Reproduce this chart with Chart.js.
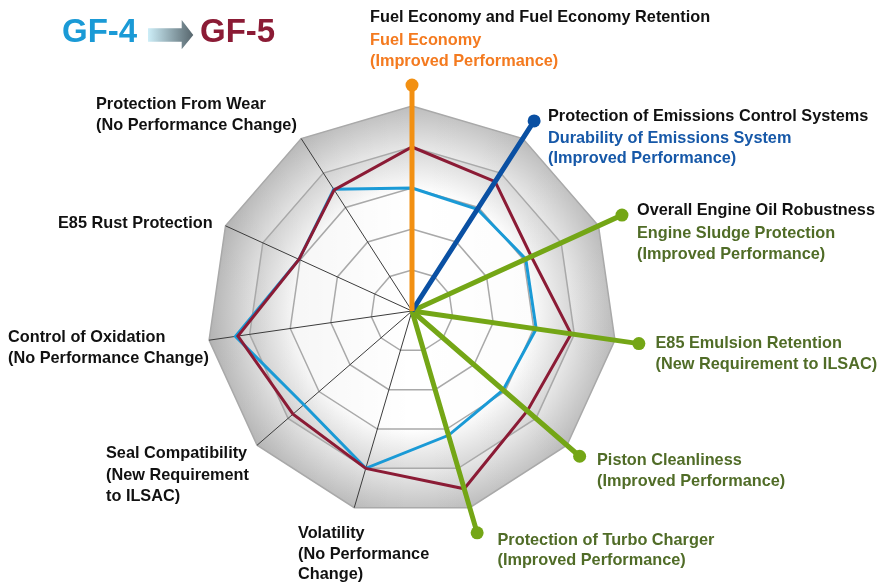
<!DOCTYPE html>
<html>
<head>
<meta charset="utf-8">
<script src="https://cdn.jsdelivr.net/npm/chart.js@4"></script>
<style>
  html, body { margin: 0; padding: 0; background: #ffffff; }
  #wrap { position: relative; width: 879px; height: 583px; overflow: hidden; font-family: "Liberation Sans", Arial, sans-serif; }
  #c { position: absolute; left: 0; top: 0; }
  .lbl { position: absolute; font-weight: bold; font-size: 16.3px; line-height: 20px; white-space: nowrap; }
  .title { position: absolute; font-weight: bold; font-size: 33px; line-height: 40px; white-space: nowrap; }
</style>
</head>
<body>
<div id="wrap">
  <canvas id="c" width="879" height="583"></canvas>
</div>
<script>
// ---------------- data ----------------
const categories = [
  'Fuel Economy', 'Emissions Control', 'Engine Sludge', 'E85 Emulsion', 'Piston Cleanliness',
  'Turbo Charger', 'Volatility', 'Seal Compatibility', 'Oxidation', 'E85 Rust', 'Wear'
];
const gf5Values = [4.0, 3.75, 3.2, 3.92, 3.72, 4.52, 4.0, 3.84, 4.29, 3.03, 3.51];
const gf4Values = [3.0, 2.95, 3.05, 3.06, 2.94, 3.16, 4.0, 3.49, 4.35, 3.03, 3.53];
// highlighted (improved / new) criteria: axis index and spoke length
const highlightAxes = [0, 1, 2, 3, 4, 5];
const highlightLengths = [5.51, 5.51, 5.63, 5.59, 5.41, 5.64];
const highlightColors = ['#f29012', '#0a50a3', '#74a616', '#74a616', '#74a616', '#74a616'];
const scaleMax = 5;

// label text (first line black, rest coloured)
const labelText = [
  ['Fuel Economy and Fuel Economy Retention', 'Fuel Economy', '(Improved Performance)'],
  ['Protection of Emissions Control Systems', 'Durability of Emissions System', '(Improved Performance)'],
  ['Overall Engine Oil Robustness', 'Engine Sludge Protection', '(Improved Performance)'],
  ['E85 Emulsion Retention', '(New Requirement to ILSAC)'],
  ['Piston Cleanliness', '(Improved Performance)'],
  ['Protection of Turbo Charger', '(Improved Performance)'],
  ['Volatility', '(No Performance', 'Change)'],
  ['Seal Compatibility', '(New Requirement', 'to ILSAC)'],
  ['Control of Oxidation', '(No Performance Change)'],
  ['E85 Rust Protection'],
  ['Protection From Wear', '(No Performance Change)']
];

// ---------------- layout / styles ----------------
const labelLayout = [
  { x: 370, ys: [15.5, 39, 59.5], colors: ['#111', '#f47a1f', '#f47a1f'] },
  { x: 548, ys: [114.5, 136.5, 156.7], colors: ['#111', '#1658a8', '#1658a8'] },
  { x: 637, ys: [209.2, 231.8, 253], colors: ['#111', '#506c27', '#506c27'] },
  { x: 655.5, ys: [341.7, 362.7], colors: ['#506c27', '#506c27'] },
  { x: 597, ys: [458.3, 479.7], colors: ['#506c27', '#506c27'] },
  { x: 497.5, ys: [538.3, 558.8], colors: ['#506c27', '#506c27'] },
  { x: 298, ys: [531.7, 552.7, 572.7], colors: ['#111', '#111', '#111'] },
  { x: 106, ys: [452, 473.5, 494.5], colors: ['#111', '#111', '#111'] },
  { x: 8, ys: [335.8, 356.7], colors: ['#111', '#111'] },
  { x: 58, ys: [222.2], colors: ['#111'] },
  { x: 96, ys: [103, 124], colors: ['#111', '#111'] }
];

const wrap = document.getElementById('wrap');
labelText.forEach((lines, i) => {
  const L = labelLayout[i];
  lines.forEach((t, k) => {
    const d = document.createElement('div');
    d.className = 'lbl';
    d.textContent = t;
    d.style.left = L.x + 'px';
    d.style.top = (L.ys[k] - 9.8) + 'px';
    d.style.color = L.colors[k];
    wrap.appendChild(d);
  });
});

// title "GF-4 -> GF-5"
(function () {
  const t1 = document.createElement('div');
  t1.className = 'title'; t1.textContent = 'GF-4';
  t1.style.left = '62px'; t1.style.top = '11px'; t1.style.color = '#1a9ad6';
  wrap.appendChild(t1);
  const t2 = document.createElement('div');
  t2.className = 'title'; t2.textContent = 'GF-5';
  t2.style.left = '200px'; t2.style.top = '11px'; t2.style.color = '#8b1b35';
  wrap.appendChild(t2);
  const svgNS = 'http://www.w3.org/2000/svg';
  const svg = document.createElementNS(svgNS, 'svg');
  svg.setAttribute('width', '60'); svg.setAttribute('height', '40');
  svg.style.position = 'absolute'; svg.style.left = '146px'; svg.style.top = '15px';
  svg.innerHTML = '<defs><linearGradient id="ag" x1="0" y1="0" x2="1" y2="0">' +
    '<stop offset="0" stop-color="#cdeef8"/><stop offset="1" stop-color="#56656c"/></linearGradient></defs>' +
    '<polygon points="2,13.3 35.7,13.3 35.7,5 47.3,20 35.7,34.3 35.7,26.7 2,26.7" fill="url(#ag)"/>';
  wrap.appendChild(svg);
})();

// ---------------- chart ----------------
// let the spoke tip dots (which lie beyond the outer ring) be drawn
const fullAreaPlugin = {
  id: 'fullArea',
  afterLayout(chart) {
    chart.chartArea = { left: 0, top: 0, right: chart.width, bottom: chart.height, width: chart.width, height: chart.height };
  }
};

const bevelPlugin = {
  id: 'bevel',
  beforeDraw(chart) {
    const s = chart.scales.r;
    const ctx = chart.ctx;
    const n = categories.length;
    const cx = s.xCenter, cy = s.yCenter;
    function poly(v) {
      const r = s.getDistanceFromCenterForValue(v);
      ctx.beginPath();
      for (let i = 0; i < n; i++) {
        const p = s.getPointPosition(i, r);
        if (i === 0) ctx.moveTo(p.x, p.y); else ctx.lineTo(p.x, p.y);
      }
      ctx.closePath();
      return r;
    }
    ctx.save();
    let R5 = poly(scaleMax);
    let g = ctx.createRadialGradient(cx, cy, 0, cx, cy, R5);
    g.addColorStop(0, '#ffffff');
    g.addColorStop(0.76, '#ececec');
    g.addColorStop(1, '#bdbdbd');
    ctx.fillStyle = g; ctx.fill();
    let R4 = poly(scaleMax - 1);
    g = ctx.createRadialGradient(cx, cy, 0, cx, cy, R4);
    g.addColorStop(0, '#ffffff');
    g.addColorStop(0.72, '#ffffff');
    g.addColorStop(1, '#d6d6d6');
    ctx.fillStyle = g; ctx.fill();
    poly(scaleMax);
    const lg = ctx.createLinearGradient(cx - R5, cy, cx + R5, cy);
    lg.addColorStop(0, 'rgba(0,0,0,0.06)');
    lg.addColorStop(0.5, 'rgba(0,0,0,0)');
    lg.addColorStop(1, 'rgba(0,0,0,0.02)');
    ctx.fillStyle = lg; ctx.fill();
    ctx.restore();
  }
};

const spokeDatasets = highlightAxes.map((axis, k) => ({
  label: categories[axis],
  data: categories.map((_, j) => (j === axis ? highlightLengths[k] : 0)),
  borderColor: highlightColors[k],
  backgroundColor: highlightColors[k],
  pointBackgroundColor: highlightColors[k],
  pointBorderWidth: 0,
  pointRadius: (c) => (c.dataIndex === axis ? 6.5 : 0),
  pointHoverRadius: 0,
  borderWidth: 5,
  borderJoinStyle: 'bevel',
  fill: false,
  clip: false
}));

new Chart(document.getElementById('c'), {
  type: 'radar',
  data: {
    labels: categories,
    datasets: [
      ...spokeDatasets,
      {
        label: 'GF-5', data: gf5Values, borderColor: '#8b1b35', borderWidth: 3,
        pointRadius: 0, fill: false, borderJoinStyle: 'miter'
      },
      {
        label: 'GF-4', data: gf4Values, borderColor: '#1a9ad6', borderWidth: 3,
        pointRadius: 0, fill: false, borderJoinStyle: 'miter'
      }
    ]
  },
  options: {
    responsive: false,
    animation: false,
    devicePixelRatio: 1,
    layout: { padding: { left: 207, right: 261, top: 106, bottom: 66 } },
    plugins: { legend: { display: false }, tooltip: { enabled: false } },
    elements: { line: { tension: 0 } },
    scales: {
      r: {
        min: 0, max: scaleMax,
        ticks: { display: false, stepSize: 1 },
        pointLabels: { display: false },
        grid: { color: '#a9a9a9', lineWidth: 1.5 },
        angleLines: { color: '#3c3c3c', lineWidth: 1 }
      }
    }
  },
  plugins: [fullAreaPlugin, bevelPlugin]
});
</script>
</body>
</html>
